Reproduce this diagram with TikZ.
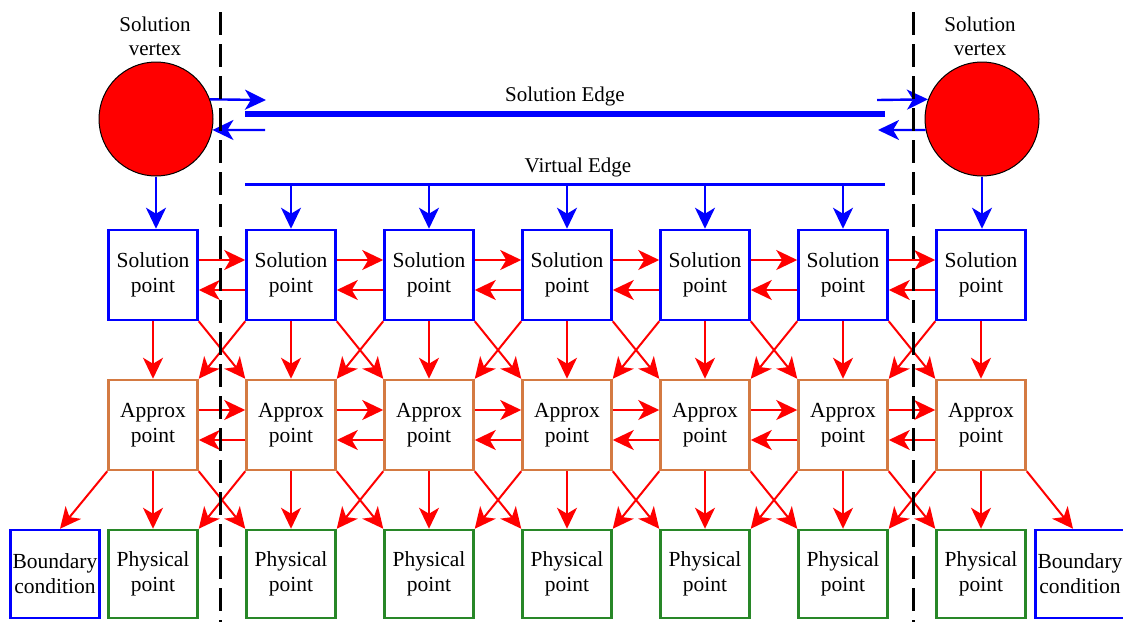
\documentclass[tikz,border=0pt]{standalone}
\usepackage{fontspec}
\setmainfont{Liberation Serif}
\usepackage{xcolor}
\definecolor{Col1}{RGB}{0,0,255}
\definecolor{Col2}{RGB}{255,0,0}
\definecolor{Col3}{RGB}{212,122,66}
\definecolor{Col4}{RGB}{40,135,40}
\usepackage{tikz}
\usetikzlibrary{arrows.meta}
\tikzstyle{Box}=[rectangle,line width=2.5pt,fill=white,minimum width=89pt,
minimum height=90pt,inner sep=0pt,align=center,font=\fontsize{21.5}{25}\selectfont]
\tikzstyle{NodeSP}=[Box,draw=Col1]
\tikzstyle{NodeAP}=[Box,draw=Col3]
\tikzstyle{NodePP}=[Box,draw=Col4,minimum height=88pt]
\tikzstyle{NodeBC}=[Box,draw=Col1,minimum height=88pt]
\tikzstyle{NodeSV}=[circle,draw=black,fill=Col2,line width=1pt,
minimum size=114pt,inner sep=0pt]
\tikzstyle{NodeST}=[align=center,font=\fontsize{21}{24}\selectfont]
\tikzstyle{Edge}=[draw=Col2,line width=2pt,
-{Stealth[length=21pt,width=20pt,inset=6pt]}]
\tikzstyle{EdgeB}=[draw=Col1,line width=2.4pt,
-{Stealth[length=21pt,width=20pt,inset=6pt]}]
\tikzstyle{Wall}=[draw=black,line width=3pt,dash pattern=on 23pt off 9pt]

\begin{document}
\begin{tikzpicture}[x=1pt,y=-1pt]
        \useasboundingbox(0,0)rectangle(1123,622);
        \node[NodeSV](v0)at(156,119){};
        \node[NodeSV](v1)at(982,119){};
        \node[NodeST](t0)at(155,36){Solution\\vertex};
        \node[NodeST](t1)at(980,36){Solution\\vertex};
        \node[NodeST](t2)at(565,96){Solution Edge};
        \node[NodeST](t3)at(578,167){Virtual Edge};
        \node[NodeSP](s0)at(153,275){Solution\\point};
        \node[NodeSP](s1)at(291,275){Solution\\point};
        \node[NodeSP](s2)at(429,275){Solution\\point};
        \node[NodeSP](s3)at(567,275){Solution\\point};
        \node[NodeSP](s4)at(705,275){Solution\\point};
        \node[NodeSP](s5)at(843,275){Solution\\point};
        \node[NodeSP](s6)at(981,275){Solution\\point};
        \node[NodeAP](a0)at(153,425){Approx\\point};
        \node[NodeAP](a1)at(291,425){Approx\\point};
        \node[NodeAP](a2)at(429,425){Approx\\point};
        \node[NodeAP](a3)at(567,425){Approx\\point};
        \node[NodeAP](a4)at(705,425){Approx\\point};
        \node[NodeAP](a5)at(843,425){Approx\\point};
        \node[NodeAP](a6)at(981,425){Approx\\point};
        \node[NodePP](p0)at(153,574){Physical\\point};
        \node[NodePP](p1)at(291,574){Physical\\point};
        \node[NodePP](p2)at(429,574){Physical\\point};
        \node[NodePP](p3)at(567,574){Physical\\point};
        \node[NodePP](p4)at(705,574){Physical\\point};
        \node[NodePP](p5)at(843,574){Physical\\point};
        \node[NodePP](p6)at(981,574){Physical\\point};
        \node[NodeBC](b0)at(55,574){Boundary\\condition};
        \node[NodeBC](b1)at(1080,574){Boundary\\condition};
        \coordinate(e0)at(245,114);
        \coordinate(e1)at(885,114);
        \coordinate(g0)at(245,184);
        \coordinate(g1)at(885,184);
        \coordinate(h0)at(266,100);
        \coordinate(h1)at(265,130);
        \coordinate(h2)at(877,100);
        \coordinate(h3)at(878,130);
        \coordinate(w0)at(220,12);
        \coordinate(w1)at(220,622);
        \coordinate(w2)at(913,12);
        \coordinate(w3)at(913,622);
        % solution and virtual edges
        \draw[Col1,line width=6pt](e0)--(e1);
        \draw[Col1,line width=3pt](g0)--(g1);
        \draw[EdgeB](v0.20)--(h0);
        \draw[EdgeB](h1)--(v0.-11);
        \draw[EdgeB](h2)--(v1.160);
        \draw[EdgeB](v1.191)--(h3);
        \draw[EdgeB](v0)--(v0|-s0.north);
        \draw[EdgeB](v1)--(v1|-s6.north);
        \draw[EdgeB](s1|-g0)--(s1);
        \draw[EdgeB](s2|-g0)--(s2);
        \draw[EdgeB](s3|-g0)--(s3);
        \draw[EdgeB](s4|-g0)--(s4);
        \draw[EdgeB](s5|-g0)--(s5);
        % solution row
        \draw[Edge]([yshift=15pt]s0.east)--([yshift=15pt]s1.west);
        \draw[Edge]([yshift=-15pt]s1.west)--([yshift=-15pt]s0.east);
        \draw[Edge]([yshift=15pt]s1.east)--([yshift=15pt]s2.west);
        \draw[Edge]([yshift=-15pt]s2.west)--([yshift=-15pt]s1.east);
        \draw[Edge]([yshift=15pt]s2.east)--([yshift=15pt]s3.west);
        \draw[Edge]([yshift=-15pt]s3.west)--([yshift=-15pt]s2.east);
        \draw[Edge]([yshift=15pt]s3.east)--([yshift=15pt]s4.west);
        \draw[Edge]([yshift=-15pt]s4.west)--([yshift=-15pt]s3.east);
        \draw[Edge]([yshift=15pt]s4.east)--([yshift=15pt]s5.west);
        \draw[Edge]([yshift=-15pt]s5.west)--([yshift=-15pt]s4.east);
        \draw[Edge]([yshift=15pt]s5.east)--([yshift=15pt]s6.west);
        \draw[Edge]([yshift=-15pt]s6.west)--([yshift=-15pt]s5.east);
        % approx row
        \draw[Edge]([yshift=15pt]a0.east)--([yshift=15pt]a1.west);
        \draw[Edge]([yshift=-15pt]a1.west)--([yshift=-15pt]a0.east);
        \draw[Edge]([yshift=15pt]a1.east)--([yshift=15pt]a2.west);
        \draw[Edge]([yshift=-15pt]a2.west)--([yshift=-15pt]a1.east);
        \draw[Edge]([yshift=15pt]a2.east)--([yshift=15pt]a3.west);
        \draw[Edge]([yshift=-15pt]a3.west)--([yshift=-15pt]a2.east);
        \draw[Edge]([yshift=15pt]a3.east)--([yshift=15pt]a4.west);
        \draw[Edge]([yshift=-15pt]a4.west)--([yshift=-15pt]a3.east);
        \draw[Edge]([yshift=15pt]a4.east)--([yshift=15pt]a5.west);
        \draw[Edge]([yshift=-15pt]a5.west)--([yshift=-15pt]a4.east);
        \draw[Edge]([yshift=15pt]a5.east)--([yshift=15pt]a6.west);
        \draw[Edge]([yshift=-15pt]a6.west)--([yshift=-15pt]a5.east);
        % solution to approx
        \draw[Edge](s0)--(a0);
        \draw[Edge](s1)--(a1);
        \draw[Edge](s2)--(a2);
        \draw[Edge](s3)--(a3);
        \draw[Edge](s4)--(a4);
        \draw[Edge](s5)--(a5);
        \draw[Edge](s6)--(a6);
        \draw[Edge](s0.south east)--(a1.north west);
        \draw[Edge](s1.south east)--(a2.north west);
        \draw[Edge](s2.south east)--(a3.north west);
        \draw[Edge](s3.south east)--(a4.north west);
        \draw[Edge](s4.south east)--(a5.north west);
        \draw[Edge](s5.south east)--(a6.north west);
        \draw[Edge](s1.south west)--(a0.north east);
        \draw[Edge](s2.south west)--(a1.north east);
        \draw[Edge](s3.south west)--(a2.north east);
        \draw[Edge](s4.south west)--(a3.north east);
        \draw[Edge](s5.south west)--(a4.north east);
        \draw[Edge](s6.south west)--(a5.north east);
        % approx to physical
        \draw[Edge](a0)--(p0);
        \draw[Edge](a1)--(p1);
        \draw[Edge](a2)--(p2);
        \draw[Edge](a3)--(p3);
        \draw[Edge](a4)--(p4);
        \draw[Edge](a5)--(p5);
        \draw[Edge](a6)--(p6);
        \draw[Edge](a0.south east)--(p1.north west);
        \draw[Edge](a1.south east)--(p2.north west);
        \draw[Edge](a2.south east)--(p3.north west);
        \draw[Edge](a3.south east)--(p4.north west);
        \draw[Edge](a4.south east)--(p5.north west);
        \draw[Edge](a5.south east)--(p6.north west);
        \draw[Edge](a1.south west)--(p0.north east);
        \draw[Edge](a2.south west)--(p1.north east);
        \draw[Edge](a3.south west)--(p2.north east);
        \draw[Edge](a4.south west)--(p3.north east);
        \draw[Edge](a5.south west)--(p4.north east);
        \draw[Edge](a6.south west)--(p5.north east);
        \draw[Edge](a0.south west)--([xshift=5pt]b0.north);
        \draw[Edge](a6.south east)--([xshift=-7pt]b1.north);
        % boundaries
        \draw[Wall](w0)--(w1);
        \draw[Wall](w2)--(w3);
    \end{tikzpicture}
\end{document}
